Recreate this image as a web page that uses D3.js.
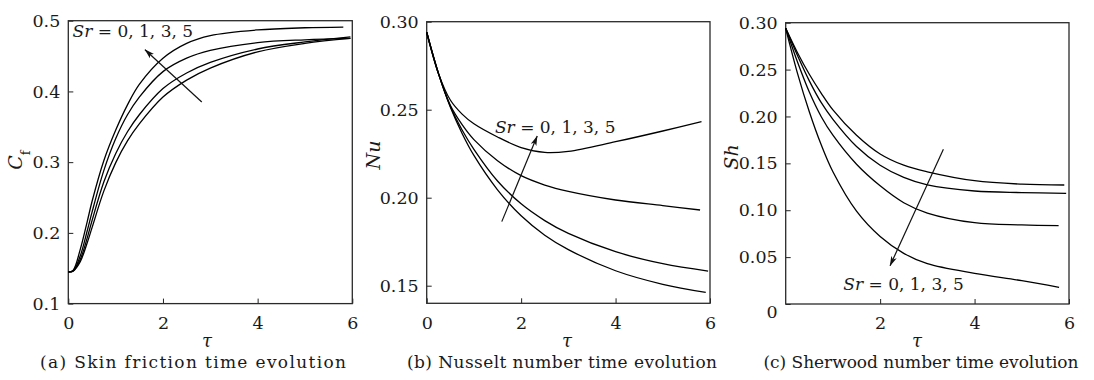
<!DOCTYPE html>
<html><head><meta charset="utf-8">
<script src="https://cdn.jsdelivr.net/npm/d3@7"></script>
<style>
body{margin:0;background:#fff;}
svg text{font-family:"DejaVu Serif",serif;fill:#1a1a1a;}
</style></head><body>
<svg id="c" width="1094" height="380"></svg>
<script>
// ---------- data ----------
// (a) Skin friction
const tauA = [0, 0.1, 0.25, 0.4, 0.5, 0.75, 1, 1.25, 1.5, 2, 2.5, 3, 4, 5];
const tauEndA = [5.96, 5.96, 5.96, 5.81];
const cfSr0 = [0.145,0.146,0.159,0.186,0.207,0.259,0.299,0.330,0.354,0.392,0.416,0.433,0.456,0.468,0.475];
const cfSr1 = [0.145,0.146,0.162,0.193,0.217,0.272,0.312,0.343,0.367,0.404,0.426,0.441,0.460,0.470,0.477];
const cfSr3 = [0.145,0.146,0.167,0.203,0.229,0.288,0.333,0.367,0.392,0.428,0.447,0.458,0.469,0.473,0.475];
const cfSr5 = [0.145,0.147,0.176,0.216,0.244,0.302,0.345,0.381,0.410,0.447,0.468,0.479,0.487,0.490,0.491];

// (b) Nusselt number
const tauB = [0, 0.25, 0.5, 0.75, 1, 1.5, 2, 2.5, 3, 4, 5];
const tauEndB = [5.91, 5.96, 5.79, 5.82];
const nuSr0 = [0.294,0.2705,0.2515,0.2365,0.2240,0.2045,0.1897,0.1787,0.1705,0.1585,0.1508,0.1462];
const nuSr1 = [0.294,0.2705,0.2520,0.2385,0.2275,0.2095,0.1965,0.1870,0.1797,0.1693,0.1625,0.1583];
const nuSr3 = [0.294,0.2705,0.2525,0.2415,0.2330,0.2210,0.2125,0.2072,0.2036,0.1987,0.1955,0.1930];
const nuSr5 = [0.294,0.2705,0.2555,0.2475,0.2420,0.2345,0.2285,0.2257,0.2263,0.2318,0.2379,0.2432];

// (c) Sherwood number
const tauC = [0, 0.25, 0.5, 0.75, 1, 1.5, 2, 2.5, 3, 4, 5];
const tauEndC = [5.90, 5.94, 5.78, 5.79];
const shSr0 = [0.294,0.268,0.245,0.225,0.207,0.180,0.160,0.148,0.141,0.1315,0.1278,0.1269];
const shSr1 = [0.294,0.265,0.238,0.215,0.197,0.168,0.148,0.135,0.127,0.1205,0.1188,0.1180];
const shSr3 = [0.294,0.258,0.226,0.200,0.180,0.149,0.126,0.108,0.097,0.0867,0.0843,0.0835];
const shSr5 = [0.294,0.246,0.205,0.170,0.141,0.099,0.072,0.054,0.043,0.0327,0.0249,0.0178];

// ticks
const xTicksA = [0, 2, 4, 6], yTicksA = [0.1, 0.2, 0.3, 0.4, 0.5], yLabelsA = ["0.1","0.2","0.3","0.4","0.5"];
const xTicksB = [0, 2, 4, 6], yTicksB = [0.15, 0.20, 0.25, 0.30], yLabelsB = ["0.15","0.20","0.25","0.30"];
const xTicksC = [2, 4, 6], yTicksC = [0, 0.05, 0.10, 0.15, 0.20, 0.25, 0.30], yLabelsC = ["0","0.05","0.10","0.15","0.20","0.25","0.30"];

// annotations: arrow [tailTau, tailVal, headTau, headVal], label anchor [tau, val]
const arrowA = [2.82, 0.385, 1.62, 0.459], labelA = [0.09, 0.477];
const arrowB = [1.59, 0.1864, 2.34, 0.235], labelB = [1.446, 0.2368];
const arrowC = [3.34, 0.165, 2.21, 0.0408], labelC = [1.22, 0.0149];
const sweepText = " = 0, 1, 3, 5";

const captions = ["(a) Skin friction time evolution", "(b) Nusselt number time evolution", "(c) Sherwood number time evolution"];

// ---------- layout ----------
const panels = [
  {box:[68.3,352.3,20.7,303.6], ydom:[0.1,0.5], tau:tauA, ends:tauEndA, series:[cfSr0,cfSr1,cfSr3,cfSr5],
   xt:xTicksA, yt:yTicksA, yl:yLabelsA, arrow:arrowA, label:labelA, cap:captions[0], capX:193, capW:306, tauX:207,
   ytitle:{x:22, y:160, parts:[["C","italic",null],["f","normal","sub"]]}},
  {box:[426.7,710,21.7,303.3], ydom:[0.14,0.30], tau:tauB, ends:tauEndB, series:[nuSr0,nuSr1,nuSr3,nuSr5],
   xt:xTicksB, yt:yTicksB, yl:yLabelsB, arrow:arrowB, label:labelB, cap:captions[1], capX:562, capW:310, tauX:567,
   ytitle:{x:380, y:155, parts:[["Nu","italic",null]]}},
  {box:[785.7,1069,22.7,304], ydom:[0,0.30], tau:tauC, ends:tauEndC, series:[shSr0,shSr1,shSr3,shSr5],
   xt:xTicksC, yt:yTicksC, yl:yLabelsC, arrow:arrowC, label:labelC, cap:captions[2], capX:921, capW:315, tauX:917,
   ytitle:{x:738, y:157, parts:[["Sh","italic",null]]}, zeroShift:8}
];

const svg = d3.select("#c");
svg.append("defs").append("marker")
  .attr("id","ah").attr("markerUnits","userSpaceOnUse")
  .attr("viewBox","0 0 10 6").attr("refX",9.5).attr("refY",3)
  .attr("markerWidth",10).attr("markerHeight",6).attr("orient","auto")
  .append("path").attr("d","M0,0 L10,3 L0,6 L2.5,3 Z").attr("fill","#111");

panels.forEach(p => {
  const [x0,x1,y0,y1] = p.box;
  const x = d3.scaleLinear().domain([0,6]).range([x0,x1]);
  const y = d3.scaleLinear().domain(p.ydom).range([y1,y0]);
  const g = svg.append("g");

  // axes
  const ya = d3.axisLeft(y).tickValues(p.yt).tickFormat((d,i)=>p.yl[i]).tickSizeInner(-5).tickSizeOuter(0).tickPadding(8);
  const yg = g.append("g").attr("transform",`translate(${x0},0)`).call(ya);
  const xa = d3.axisBottom(x).tickValues(p.xt).tickFormat(d3.format("d")).tickSizeInner(-5).tickSizeOuter(0).tickPadding(13);
  const xg = g.append("g").attr("transform",`translate(0,${y1})`).call(xa);
  [yg,xg].forEach(a=>{
    a.select(".domain").remove();
    a.selectAll(".tick line").attr("stroke","#222").attr("stroke-width",1);
    a.selectAll(".tick text").attr("font-size",17.5).attr("font-family","DejaVu Serif").attr("fill","#1a1a1a");
  });
  if (p.zeroShift) yg.selectAll(".tick text").filter(d=>d===0).attr("dy", (0.32*17.5+p.zeroShift)+"px");

  // box
  g.append("rect").attr("x",x0).attr("y",y0).attr("width",x1-x0).attr("height",y1-y0)
    .attr("fill","none").attr("stroke","#2a2a2a").attr("stroke-width",1.3);

  // curves
  const line = d3.line().x(d=>x(d[0])).y(d=>y(d[1])).curve(d3.curveCatmullRom.alpha(0.5));
  p.series.forEach((s,i)=>{
    const pts = s.map((v,j)=>[j < p.tau.length ? p.tau[j] : p.ends[i], v]);
    g.append("path").attr("d",line(pts)).attr("fill","none").attr("stroke","#000").attr("stroke-width",1.3);
  });

  // arrow
  const a = p.arrow;
  g.append("line").attr("x1",x(a[0])).attr("y1",y(a[1])).attr("x2",x(a[2])).attr("y2",y(a[3]))
    .attr("stroke","#111").attr("stroke-width",1.2).attr("marker-end","url(#ah)");
  const t = g.append("text").attr("x",x(p.label[0])).attr("y",y(p.label[1])).attr("font-size",17);
  t.append("tspan").attr("font-style","italic").text("Sr");
  t.append("tspan").text(sweepText);

  // axis titles
  g.append("text").attr("x",p.tauX).attr("y",347).attr("text-anchor","middle")
    .attr("font-size",18).attr("font-style","italic").text("τ");
  const yt = g.append("text").attr("transform",`translate(${p.ytitle.x},${p.ytitle.y}) rotate(-90)`)
    .attr("text-anchor","middle").attr("font-size",19);
  p.ytitle.parts.forEach(pt=>{
    const ts = yt.append("tspan").attr("font-style",pt[1]).text(pt[0]);
    if (pt[2]==="sub") ts.attr("baseline-shift","sub").attr("font-size",13);
  });

  // caption
  g.append("text").attr("x",p.capX).attr("y",368).attr("text-anchor","middle")
    .attr("font-size",17).attr("textLength",p.capW).attr("lengthAdjust","spacing").text(p.cap);
});
</script>
</body></html>
